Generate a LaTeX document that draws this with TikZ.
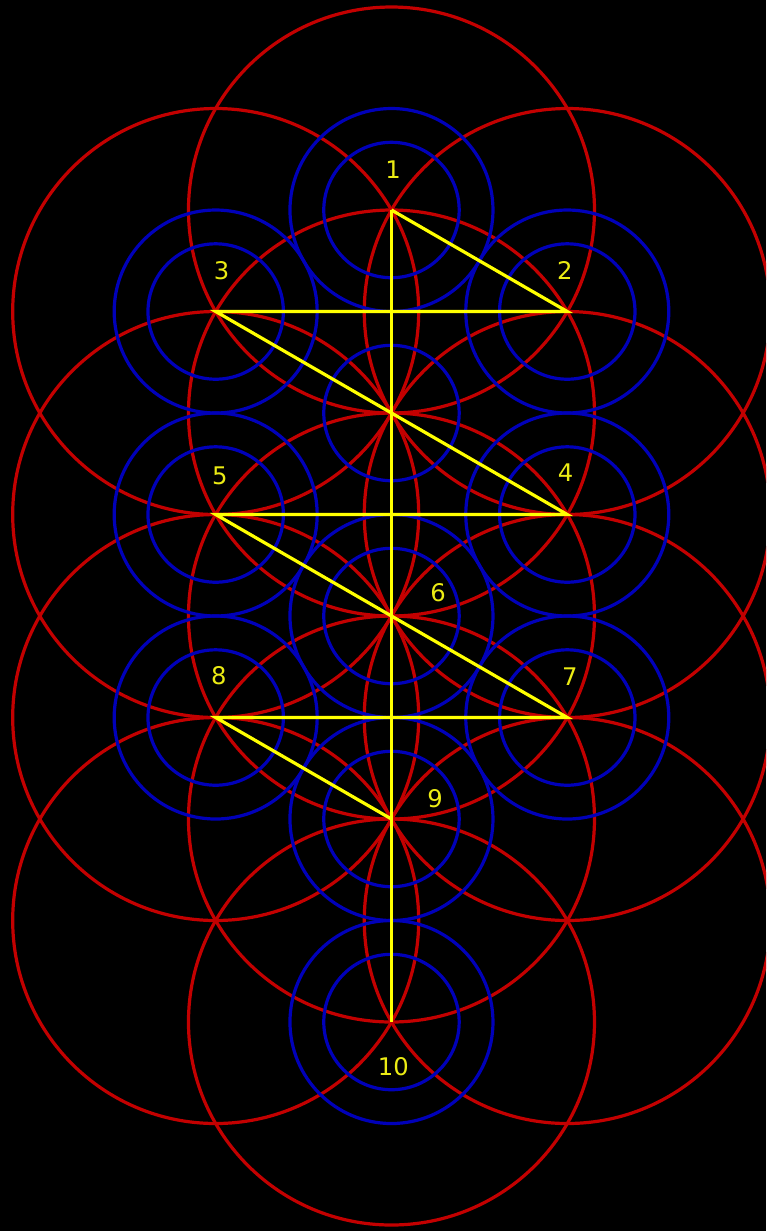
\documentclass[tikz,border=0pt]{standalone}
\usepackage{fontspec}
\setsansfont{DejaVu Sans}
\definecolor{ringred}{RGB}{195,0,0}
\definecolor{ringblue}{RGB}{0,0,185}
\definecolor{flashyellow}{RGB}{255,255,0}
\definecolor{numyellow}{RGB}{235,235,20}
\begin{document}
\begin{tikzpicture}[
  redring/.style={ringred,line width=0.9pt},
  bluering/.style={ringblue,line width=0.9pt},
  flash/.style={flashyellow,line width=0.9pt},
  num/.style={numyellow,font=\sffamily\fontsize{6.8}{8}\selectfont,inner sep=0pt}]
%frame
\useasboundingbox (-3.857,-8.059) rectangle (3.690,4.069);
\fill[black] (-3.857,-8.059) rectangle (3.690,4.069);
\clip (-3.857,-8.059) rectangle (3.690,4.069);
%points
\coordinate (daat) at (0,0);
\coordinate (s1) at (0,2);
\coordinate (s2) at (1.732,1);
\coordinate (s3) at (-1.732,1);
\coordinate (s4) at (1.732,-1);
\coordinate (s5) at (-1.732,-1);
\coordinate (s6) at (0,-2);
\coordinate (s7) at (1.732,-3);
\coordinate (s8) at (-1.732,-3);
\coordinate (s9) at (0,-4);
\coordinate (s10) at (0,-6);
\coordinate (lowl) at (-1.732,-5);
\coordinate (lowr) at (1.732,-5);
%red circles
\foreach \p in {s1,s2,s3,daat,s4,s5,s6,s7,s8,s9,lowl,lowr,s10}
  \draw[redring] (\p) circle (2);
%blue circles
\foreach \p in {s1,s2,s3,s4,s5,s6,s7,s8,s9,s10}
  \draw[bluering] (\p) circle (1);
\foreach \p in {s1,s2,s3,daat,s4,s5,s6,s7,s8,s9,s10}
  \draw[bluering] (\p) circle (0.667);
%paths
\draw[flash] (s1) -- (s10);
\draw[flash] (s1) -- (s2) -- (s3) -- (s4) -- (s5) -- (s7) -- (s8) -- (s9);
%numbers
\node[num] (l1) at (0.015,2.40) {1};
\node[num] (l2) at (1.709,1.409) {2};
\node[num] (l3) at (-1.673,1.402) {3};
\node[num] (l4) at (1.716,-0.588) {4};
\node[num] (l5) at (-1.69,-0.621) {5};
\node[num] (l6) at (0.458,-1.773) {6};
\node[num] (l7) at (1.758,-2.598) {7};
\node[num] (l8) at (-1.700,-2.588) {8};
\node[num] (l9) at (0.429,-3.803) {9};
\node[num] (l10) at (0.018,-6.443) {10};
\end{tikzpicture}
\end{document}
